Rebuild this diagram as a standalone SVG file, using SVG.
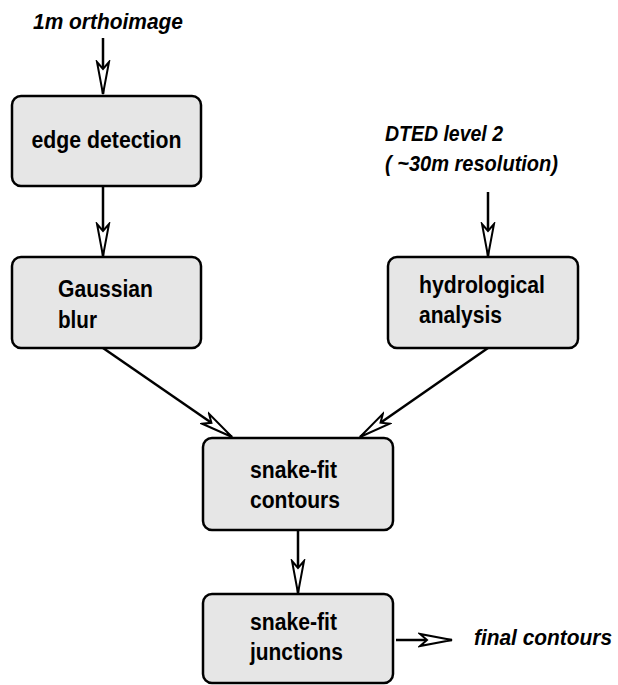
<svg xmlns="http://www.w3.org/2000/svg" width="618" height="685" viewBox="0 0 618 685">
<style>
.box{fill:#e6e6e6;stroke:#000;stroke-width:2.5}
.t{font-family:"Liberation Sans",Arial,sans-serif;font-weight:bold;font-size:23px;fill:#000}
.i{font-style:italic;font-size:22px}
.c{stroke:#000;stroke-width:2.5;fill:none}
</style>
<defs>
<marker id="ah" markerUnits="userSpaceOnUse" markerWidth="40" markerHeight="20" refX="34" refY="8" orient="auto" viewBox="0 0 40 16">
<path d="M34,8 L2,2 L9,8 L2,14 Z" fill="#fff" stroke="#000" stroke-width="2" stroke-linejoin="miter"/>
</marker>
</defs>
<g id="labels">
<text class="t i" x="33" y="29" textLength="150" lengthAdjust="spacingAndGlyphs">1m orthoimage</text>
<text class="t i" x="385" y="141" textLength="118" lengthAdjust="spacingAndGlyphs">DTED level 2</text>
<text class="t i" x="385" y="171" textLength="173" lengthAdjust="spacingAndGlyphs">( ~30m resolution)</text>
<text class="t i" x="474" y="645" textLength="138" lengthAdjust="spacingAndGlyphs">final contours</text>
</g>
<g id="edge">
<rect class="box" x="12" y="96" width="189" height="90" rx="9"/>
<text class="t" x="31.5" y="147.5" textLength="150" lengthAdjust="spacingAndGlyphs">edge detection</text>
</g>
<g id="gaussian">
<rect class="box" x="12" y="257" width="189" height="91" rx="9"/>
<text class="t" x="58" y="297" textLength="95" lengthAdjust="spacingAndGlyphs">Gaussian</text>
<text class="t" x="58" y="328" textLength="39" lengthAdjust="spacingAndGlyphs">blur</text>
</g>
<g id="hydro">
<rect class="box" x="388" y="257" width="190" height="91" rx="9"/>
<text class="t" x="419" y="292.5" textLength="126" lengthAdjust="spacingAndGlyphs">hydrological</text>
<text class="t" x="419" y="322.5" textLength="83" lengthAdjust="spacingAndGlyphs">analysis</text>
</g>
<g id="snakecontours">
<rect class="box" x="203" y="438" width="190" height="92" rx="9"/>
<text class="t" x="250" y="478" textLength="87" lengthAdjust="spacingAndGlyphs">snake-fit</text>
<text class="t" x="250" y="508" textLength="90" lengthAdjust="spacingAndGlyphs">contours</text>
</g>
<g id="snakejunctions">
<rect class="box" x="203" y="594" width="190" height="89" rx="9"/>
<text class="t" x="250" y="630" textLength="87" lengthAdjust="spacingAndGlyphs">snake-fit</text>
<text class="t" x="250" y="660" textLength="93" lengthAdjust="spacingAndGlyphs">junctions</text>
</g>
<g id="connectors">
<line class="c" x1="103" y1="38" x2="103" y2="94" marker-end="url(#ah)"/>
<line class="c" x1="103" y1="187" x2="103" y2="256" marker-end="url(#ah)"/>
<line class="c" x1="488" y1="192" x2="488" y2="256" marker-end="url(#ah)"/>
<line class="c" x1="103" y1="348" x2="232" y2="437" marker-end="url(#ah)"/>
<line class="c" x1="488" y1="348" x2="360" y2="437" marker-end="url(#ah)"/>
<line class="c" x1="298" y1="531" x2="298" y2="593" marker-end="url(#ah)"/>
<line class="c" x1="396" y1="640" x2="452" y2="640" marker-end="url(#ah)"/>
</g>
</svg>
